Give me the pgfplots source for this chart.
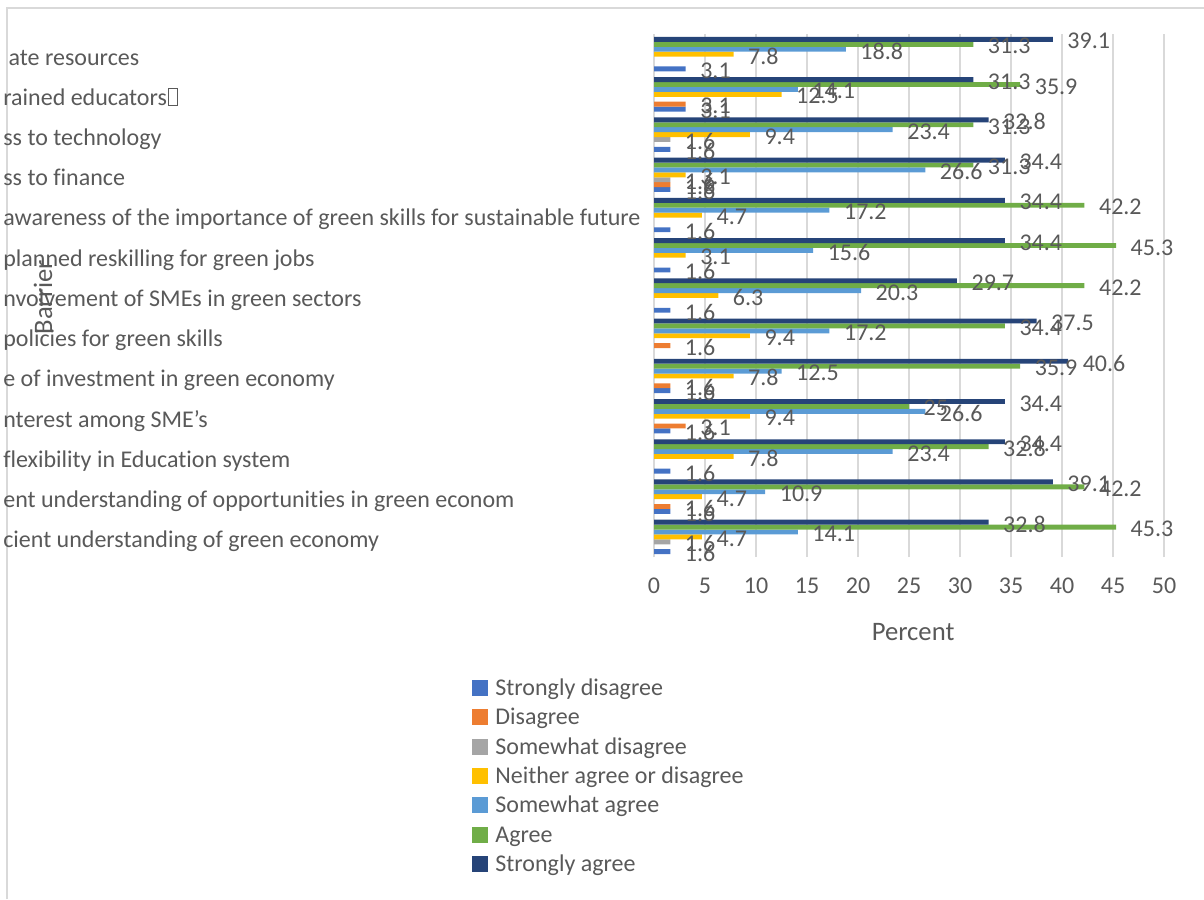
\documentclass[border=0pt]{standalone}
\usepackage{pgfplots}
\pgfplotsset{compat=1.18}
\usepackage{fontspec}
\setmainfont{Carlito}[Ligatures={NoCommon}]
\definecolor{txt}{HTML}{595959}
\definecolor{gridc}{HTML}{D9D9D9}
\definecolor{cSD}{HTML}{4472C4}
\definecolor{cD}{HTML}{ED7D31}
\definecolor{cSwD}{HTML}{A5A5A5}
\definecolor{cN}{HTML}{FFC000}
\definecolor{cSwA}{HTML}{5B9BD5}
\definecolor{cA}{HTML}{70AD47}
\definecolor{cSA}{HTML}{264478}
\begin{document}
\begin{tikzpicture}
\useasboundingbox (0,0) rectangle (451.5pt,337.125pt);
\draw[gridc, line width=0.75pt] (2.625pt,0) -- (2.625pt,334.125pt) -- (451.5pt,334.125pt);
\begin{axis}[
  at={(245.25pt,128.25pt)}, anchor=south west,
  scale only axis, width=191.25pt, height=196.125pt,
  xbar=0pt, bar width=1.84pt,
  xmin=0, xmax=50, ymin=-0.5, ymax=12.5,
  xtick={0,5,...,50}, ytick={0,...,12},
  yticklabels={cient understanding of green economy,
    ent understanding of opportunities in green econom,
    flexibility in Education system,
    nterest among SME’s,
    e of investment in green economy,
    policies for green skills,
    nvolvement of SMEs in green sectors,
    planned reskilling for green jobs,
    awareness of the importance of green skills for sustainable future,
    ss to finance,
    ss to technology,
    {rained educators\kern0.5pt{\fboxsep=0pt\fboxrule=0.4pt\fbox{\rule{0pt}{6pt}\hspace{3pt}}}},
    {\hspace{2pt}ate resources}},
  axis line style={draw=none},
  major tick length=0pt,
  xmajorgrids, grid style={gridc, line width=0.75pt},
  tick label style={font=\fontsize{9}{11}\selectfont, text=txt},
  /pgf/number format/assume math mode=true,
  xticklabel style={anchor=base, yshift=-13.7pt},
  yticklabel style={anchor=base west, inner sep=0pt, xshift=-244.2pt, yshift=-4.1pt},
  xlabel={Percent},
  xlabel style={at={(axis description cs:0.508,-0.1435)}, anchor=center, font=\fontsize{10}{12}\selectfont, text=txt},
  ylabel={Barrier},
  ylabel style={at={(axis description cs:-1.198,0.497)}, anchor=center, font=\fontsize{10}{12}\selectfont, text=txt},
  point meta=x,
  nodes near coords={\pgfmathprintnumber[fixed,precision=1]{\pgfplotspointmeta}},
  every node near coord/.append style={font=\fontsize{9}{11}\selectfont, text=txt, anchor=west, inner sep=0pt, xshift=5.3pt, yshift=-0.7pt},
  legend style={at={(axis description cs:-0.357,-0.2283)}, anchor=north west, draw=none, fill=none, inner sep=0pt,
    font=\fontsize{9}{11}\selectfont, text=txt, column sep=2.6pt,
    nodes={inner sep=0pt, text height=7pt, text depth=4pt}},
  legend cell align=left,
  legend image code/.code={\fill[#1] (0pt,-1.6pt) rectangle (6pt,4.4pt);},
]
\addplot[fill=cSD, draw=none] coordinates {(3.1,12) (3.1,11) (1.6,10) (1.6,9) (1.6,8) (1.6,7) (1.6,6) (1.6,4) (1.6,3) (1.6,2) (1.6,1) (1.6,0)};
\addplot[fill=cD, draw=none] coordinates {(3.1,11) (1.6,9) (1.6,5) (1.6,4) (3.1,3) (1.6,1)};
\addplot[fill=cSwD, draw=none] coordinates {(1.6,10) (1.6,9) (1.6,0)};
\addplot[fill=cN, draw=none] coordinates {(7.8,12) (12.5,11) (9.4,10) (3.1,9) (4.7,8) (3.1,7) (6.3,6) (9.4,5) (7.8,4) (9.4,3) (7.8,2) (4.7,1) (4.7,0)};
\addplot[fill=cSwA, draw=none] coordinates {(18.8,12) (14.1,11) (23.4,10) (26.6,9) (17.2,8) (15.6,7) (20.3,6) (17.2,5) (12.5,4) (26.6,3) (23.4,2) (10.9,1) (14.1,0)};
\addplot[fill=cA, draw=none] coordinates {(31.3,12) (35.9,11) (31.3,10) (31.3,9) (42.2,8) (45.3,7) (42.2,6) (34.4,5) (35.9,4) (25,3) (32.8,2) (42.2,1) (45.3,0)};
\addplot[fill=cSA, draw=none] coordinates {(39.1,12) (31.3,11) (32.8,10) (34.4,9) (34.4,8) (34.4,7) (29.7,6) (37.5,5) (40.6,4) (34.4,3) (34.4,2) (39.1,1) (32.8,0)};
\legend{Strongly disagree, Disagree, Somewhat disagree, Neither agree or disagree, Somewhat agree, Agree, Strongly agree}
\end{axis}
\end{tikzpicture}
\end{document}
